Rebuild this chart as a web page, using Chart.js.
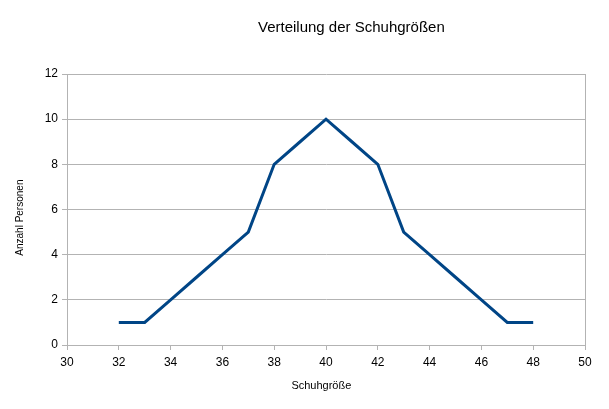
<!DOCTYPE html>
<html>
<head>
<meta charset="utf-8">
<script src="https://cdn.jsdelivr.net/npm/chart.js@4/dist/chart.umd.min.js"></script>
<style>
html,body{margin:0;padding:0;background:#fff;}
#wrap{width:609px;height:409px;position:relative;}
</style>
</head>
<body>
<div id="wrap"><canvas id="c" width="609" height="409"></canvas></div>
<script>
const titleText = "Verteilung der Schuhgrößen";
const xTitle = "Schuhgröße";
const yTitle = "Anzahl Personen";
const shoeSizes = [32,33,34,35,36,37,38,39,40,41,42,43,44,45,46,47,48];
const persons   = [1, 1, 2, 3, 4, 5, 8, 9, 10,9, 8, 5, 4, 3, 2, 1, 1];
const xMin = 30, xMax = 50, xStep = 2;
const yMin = 0, yMax = 12, yStep = 2;

const gridGrey = '#b3b3b3';
const fontFam = '"Liberation Sans", Arial, sans-serif';

const textPlugin = {
  id: 'textPlugin',
  afterDraw(chart) {
    const ctx = chart.ctx, a = chart.chartArea;
    ctx.save();
    ctx.fillStyle = '#000';
    ctx.textAlign = 'center';
    ctx.textBaseline = 'middle';
    ctx.font = '15px ' + fontFam;
    ctx.fillText(titleText, a.left + (a.right - a.left) * 0.549, a.top - 46);
    ctx.font = '11px ' + fontFam;
    ctx.fillText(xTitle, a.left + (a.right - a.left) * 0.491, a.bottom + 41);
    ctx.translate(a.left - 47, a.top + (a.bottom - a.top) * 0.53);
    ctx.rotate(-Math.PI / 2);
    ctx.font = '10px ' + fontFam;
    ctx.fillText(yTitle, 0, 0);
    ctx.restore();
  }
};

new Chart(document.getElementById('c'), {
  type: 'line',
  data: {
    datasets: [{
      data: shoeSizes.map((s, i) => ({x: s, y: persons[i]})),
      borderColor: '#004586',
      backgroundColor: '#004586',
      borderWidth: 3,
      pointRadius: 0,
      tension: 0,
      fill: false
    }]
  },
  options: {
    responsive: false,
    animation: false,
    devicePixelRatio: 1,
    layout: { padding: { left: 0, right: 24, top: 74, bottom: 0 } },
    plugins: { legend: { display: false }, title: { display: false }, tooltip: { enabled: false } },
    scales: {
      x: {
        type: 'linear',
        min: xMin, max: xMax,
        afterFit: s => { s.height = 64; },
        ticks: { stepSize: xStep, color: '#000', font: { family: fontFam, size: 12 }, padding: 5, maxRotation: 0 },
        grid: {
          color: c => (c.tick && c.tick.value === xMax) ? gridGrey : 'rgba(0,0,0,0)',
          tickColor: gridGrey,
          tickLength: 5,
          lineWidth: 1
        },
        border: { color: gridGrey, width: 1 }
      },
      y: {
        min: yMin, max: yMax,
        afterFit: s => { s.width = 67; },
        ticks: { stepSize: yStep, color: '#000', font: { family: fontFam, size: 12 }, padding: 4 },
        grid: { color: gridGrey, tickColor: gridGrey, tickLength: 5, lineWidth: 1 },
        border: { color: gridGrey, width: 1 }
      }
    }
  },
  plugins: [textPlugin]
});
</script>
</body>
</html>
